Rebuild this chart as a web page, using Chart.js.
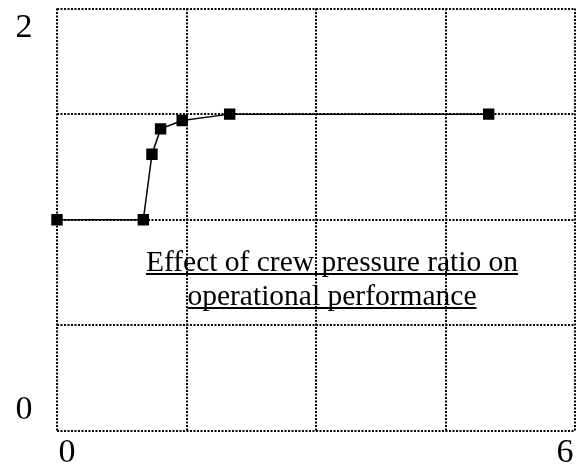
<!DOCTYPE html>
<html><head><meta charset="utf-8">
<script src="https://cdn.jsdelivr.net/npm/chart.js@4/dist/chart.umd.min.js"></script>
<style>html,body{margin:0;padding:0;background:#fff}#wrap{width:584px;height:469px}</style>
</head><body><div id="wrap"><canvas id="c"></canvas></div>
<script>
const xValues = [0, 1.0, 1.1, 1.2, 1.45, 2.0, 5.0];
const yValues = [1.0, 1.0, 1.31, 1.43, 1.47, 1.5, 1.5];
const xTickLabels = [0, 6];
const yTickLabels = [0, 2];
const noteLines = ["Effect of crew pressure ratio on", "operational performance"];

const points = xValues.map((x, i) => ({x: x, y: yValues[i]}));
const FONT = '"Liberation Serif", "Times New Roman", serif';

const labelPlugin = {
  id: 'labels',
  afterDraw(chart) {
    const ctx = chart.ctx, xs = chart.scales.x, ys = chart.scales.y;
    ctx.save();
    ctx.fillStyle = '#000';
    ctx.font = '34px ' + FONT;
    ctx.textAlign = 'center';
    ctx.textBaseline = 'middle';
    yTickLabels.forEach(v => {
      const py = ys.getPixelForValue(v);
      const off = v === ys.min ? -21 : (v === ys.max ? 20 : 0);
      ctx.fillText(String(v), 24, py + off);
    });
    xTickLabels.forEach(v => {
      const px = xs.getPixelForValue(v);
      const off = v === xs.min ? 10 : (v === xs.max ? -10 : 0);
      ctx.fillText(String(v), px + off, 453);
    });
    ctx.font = '29.5px ' + FONT;
    ctx.textBaseline = 'alphabetic';
    const cx = 332;
    const baselines = [271, 305];
    ctx.lineWidth = 2;
    ctx.strokeStyle = '#000';
    noteLines.forEach((t, i) => {
      ctx.fillText(t, cx, baselines[i]);
      const w = ctx.measureText(t).width;
      ctx.beginPath();
      ctx.moveTo(cx - w / 2, baselines[i] + 3);
      ctx.lineTo(cx + w / 2, baselines[i] + 3);
      ctx.stroke();
    });
    ctx.restore();
  }
};

new Chart(document.getElementById('c'), {
  type: 'scatter',
  data: {
    datasets: [{
      data: points,
      showLine: true,
      clip: false,
      borderColor: '#000',
      backgroundColor: '#000',
      borderWidth: 1.5,
      pointStyle: 'rect',
      pointRadius: 7,
      pointHoverRadius: 7,
      tension: 0
    }]
  },
  options: {
    responsive: true,
    maintainAspectRatio: false,
    animation: false,
    layout: {padding: {left: 57, top: 8, right: 9, bottom: 38}},
    plugins: {legend: {display: false}, tooltip: {enabled: false}},
    scales: {
      x: {
        type: 'linear', min: 0, max: 6,
        ticks: {display: false, stepSize: 1.5},
        grid: {color: '#000', lineWidth: 2, drawTicks: false},
        border: {display: false, dash: [2, 1.5]},
      },
      y: {
        type: 'linear', min: 0, max: 2,
        ticks: {display: false, stepSize: 0.5},
        grid: {color: '#000', lineWidth: 2, drawTicks: false},
        border: {display: false, dash: [2, 1.5]},
      }
    }
  },
  plugins: [labelPlugin]
});
</script>
</body></html>
